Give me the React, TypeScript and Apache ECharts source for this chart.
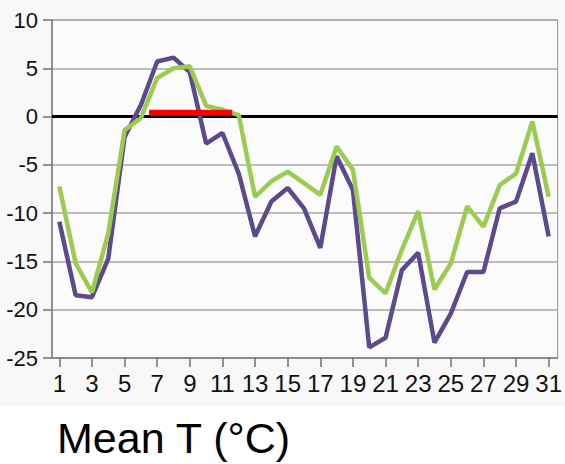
import React, { useEffect, useRef } from "react";
import * as echarts from "echarts";

const days = [1,2,3,4,5,6,7,8,9,10,11,12,13,14,15,16,17,18,19,20,21,22,23,24,25,26,27,28,29,30,31];
const purpleValues = [-10.9,-18.5,-18.7,-14.7,-2.1,1.2,5.7,6.1,4.6,-2.8,-1.7,-5.9,-12.4,-8.8,-7.4,-9.5,-13.6,-4.1,-7.6,-23.9,-22.9,-15.9,-14.1,-23.4,-20.4,-16.1,-16.1,-9.5,-8.8,-3.8,-12.4];
const greenValues = [-7.25,-15.2,-18.2,-12.1,-1.4,-0.15,4.0,5.0,5.2,1.1,0.7,0.15,-8.3,-6.7,-5.7,-6.9,-8.1,-3.1,-5.5,-16.7,-18.3,-13.8,-9.8,-17.9,-15.2,-9.3,-11.4,-7.1,-5.9,-0.5,-8.3];
const redSegmentX = [6.5, 11.6];
const redSegmentY = [0.4, 0.4];
const xTickLabels = [1,3,5,7,9,11,13,15,17,19,21,23,25,27,29,31];
const caption = "Mean T (°C)";

export default function App() {
  const ref = useRef<HTMLDivElement>(null);
  useEffect(() => {
    document.body.style.margin = "0";
    if (!ref.current) return;
    const chart = echarts.init(ref.current, undefined, { renderer: "svg" });
    const font = "Liberation Sans, Arial, sans-serif";
    chart.setOption({
      animation: false,
      backgroundColor: "#ffffff",
      graphic: [
        { type: "rect", z: -10, silent: true, shape: { x: 0, y: 0, width: 565, height: 407 }, style: { fill: "#f8f8f8" } },
        { type: "text", left: 57, top: 416, style: { text: caption, fontSize: 43, fontFamily: font, fill: "#000" } },
      ],
      grid: { left: 52, right: 5, top: 20, bottom: 106, show: true, backgroundColor: "#fbfbfb", borderColor: "#909090", borderWidth: 1 },
      xAxis: {
        type: "value",
        min: 0.55,
        max: 31.55,
        axisLine: { onZero: false, lineStyle: { color: "#808080", width: 1.5 } },
        axisTick: { show: true, length: 9, customValues: xTickLabels, lineStyle: { color: "#707070", width: 1.5 } },
        axisLabel: { customValues: xTickLabels, fontSize: 24, fontFamily: font, color: "#111", margin: 13 },
        splitLine: { show: false },
      },
      yAxis: {
        type: "value",
        min: -25,
        max: 10,
        interval: 5,
        axisLine: { show: true, lineStyle: { color: "#808080", width: 1.5 } },
        axisTick: { show: true, length: 9, lineStyle: { color: "#707070", width: 1.5 } },
        axisLabel: { fontSize: 22, fontFamily: font, color: "#111", margin: 14 },
        splitLine: { show: true, lineStyle: { color: "#a8a8a8", width: 1.5 } },
      },
      series: [
        {
          type: "line",
          data: days.map((d, i) => [d, purpleValues[i]]),
          showSymbol: false,
          lineStyle: { color: "#5c4a8c", width: 4.5 },
          z: 3,
          markLine: {
            silent: true,
            symbol: "none",
            label: { show: false },
            lineStyle: { color: "#000", width: 3, type: "solid" },
            data: [{ yAxis: 0 }],
            z: 1,
          },
        },
        {
          type: "line",
          data: days.map((d, i) => [d, greenValues[i]]),
          showSymbol: false,
          lineStyle: { color: "#9bcb50", width: 4.5 },
          z: 4,
        },
        {
          type: "line",
          data: redSegmentX.map((x, i) => [x, redSegmentY[i]]),
          showSymbol: false,
          lineStyle: { color: "#ff0000", width: 6 },
          z: 5,
        },
      ],
    });
    return () => chart.dispose();
  }, []);
  return <div ref={ref} style={{ width: 565, height: 464 }} />;
}
